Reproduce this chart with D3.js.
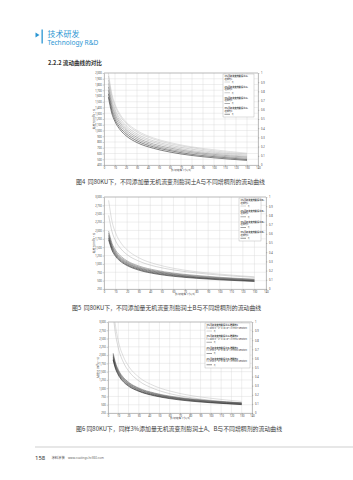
<!DOCTYPE html>
<html><head><meta charset="utf-8">
<script src="https://cdn.jsdelivr.net/npm/d3@7"></script>
<style>body{margin:0;background:#fff}svg{display:block}</style>
</head><body><svg id="page" width="353" height="480"></svg>
<script>
// ---------- data ----------
const xTickLabels = [0,10,20,30,40,50,60,70,80,90,100,110,120,130,140];
const rightTickLabels = [0,0.1,0.2,0.3,0.4,0.5,0.6,0.7,0.8,0.9,1];

// Fig 4
const fig4Shear = [4,7,10,15,20,30,45,60,80,100,130];
const fig4Visc = [
  [2000,1650,1460,1270,1150,1000,870,790,715,665,605],
  [1950,1610,1425,1240,1125,975,850,770,700,645,590],
  [1880,1550,1370,1195,1085,940,820,745,675,625,570],
  [1820,1500,1330,1155,1050,910,795,720,650,605,550],
  [1760,1450,1285,1120,1015,880,765,695,630,585,535],
  [1700,1400,1240,1080,980,850,740,670,610,565,515],
  [1640,1355,1195,1040,945,820,715,650,585,545,495],
  [1580,1305,1155,1005,910,790,690,625,565,525,480]
];
const fig4YTicks = [400,500,600,700,800,900,1000,1100,1200,1300,1400,1500,1600,1700,1800,1900,2000];
const fig4Legend = ["1%无机流变剂膨润土A+","2%无机流变剂膨润土A+","3%无机流变剂膨润土A+","4%无机流变剂膨润土A+"];
const fig4Legend2 = ["增稠剂1","增稠剂2","增稠剂3","增稠剂4"];

// Fig 5
const fig5Shear = [4,7,10,15,20,30,45,60,80,100,130];
const fig5Visc = [
  [2900,2260,1930,1610,1420,1185,990,870,765,695,615],
  [2450,1955,1690,1435,1275,1085,920,820,730,665,598],
  [1980,1610,1410,1215,1090,940,810,725,655,600,545],
  [1920,1560,1365,1175,1060,910,785,705,635,585,530],
  [1870,1520,1330,1145,1030,885,765,685,615,570,515],
  [1820,1480,1295,1115,1005,865,745,670,600,555,500],
  [1770,1440,1260,1085,975,840,720,650,585,540,490],
  [1720,1400,1225,1055,950,815,700,630,570,525,475]
];
const fig5YTicks = [250,500,750,1000,1250,1500,1750,2000,2250,2500,2750,3000];
const fig5Legend = ["1%无机流变剂膨润土B+","2%无机流变剂膨润土B+","3%无机流变剂膨润土B+","4%无机流变剂膨润土B+"];
const fig5Legend2 = ["增稠剂1","增稠剂2","增稠剂3","增稠剂4"];

// Fig 6
const fig6Shear = [5,7,10,15,20,30,45,60,80,100,130];
const fig6Visc = [
  [3540,2950,2430,1950,1665,1335,1070,915,780,695,600],
  [3245,2700,2220,1780,1520,1220,980,835,715,635,550],
  [2060,1800,1560,1325,1180,1005,855,760,680,620,560],
  [2020,1765,1530,1300,1160,985,840,745,665,610,550],
  [1980,1730,1500,1275,1135,965,820,730,655,600,540],
  [1940,1695,1470,1250,1115,945,805,720,640,585,528],
  [1890,1650,1435,1215,1085,920,785,700,625,570,515],
  [1850,1615,1400,1190,1060,905,770,685,610,560,503]
];
const fig6YTicks = [250,500,750,1000,1250,1500,1750,2000,2250,2500,2750,3000];
const fig6Legend = ["3%无机流变剂膨润土A+增稠剂1","3%无机流变剂膨润土A+增稠剂2","3%无机流变剂膨润土B+增稠剂1","3%无机流变剂膨润土B+增稠剂2"];
const fig6Legend2 = ["f = 4490.3·x^-0.43 (R² = 0.9987 Newton)","f = 4405.9·x^-0.42 (R² = 0.9991 Newton)","f = 3793.2·x^-0.40 (R² = 0.9985 Newton)","f = 3710.8·x^-0.40 (R² = 0.9989 Newton)"];

// ---------- drawing ----------
const svg = d3.select('#page');
const FONT = "'Noto Sans CJK SC','Noto Sans',sans-serif";
const blue = '#2b96d3';

// header
svg.append('path').attr('d','M35.5,32.5 L39.5,35 L35.5,37.5 Z').attr('fill',blue);
svg.append('rect').attr('x',41.5).attr('y',29.5).attr('width',1.3).attr('height',14).attr('fill',blue);
svg.append('text').attr('x',47.5).attr('y',37).attr('font-size',8).attr('fill',blue).attr('font-family',FONT).text('技术研发');
svg.append('text').attr('x',47.5).attr('y',44.6).attr('font-size',6.6).attr('fill',blue).attr('font-family',"'Noto Sans',sans-serif").text('Technology R&D');
svg.append('text').attr('x',48).attr('y',65.2).attr('font-size',5.6).attr('fill','#333').attr('font-weight','bold').attr('font-family',FONT).text('2.2.2 流动曲线的对比');

let clipId = 0;
function drawChart(o) {
  const g = svg.append('g');
  const x = d3.scaleLinear().domain([0,140]).range([o.left,o.right]);
  const y = d3.scaleLinear().domain([o.yTicks[0], o.yTicks[o.yTicks.length-1]]).range([o.bottom,o.top]);
  const yr = d3.scaleLinear().domain([0,1]).range([o.bottom,o.top]);
  // grid
  g.append('g').selectAll('line').data(xTickLabels).join('line')
    .attr('x1',d=>x(d)).attr('x2',d=>x(d)).attr('y1',o.top).attr('y2',o.bottom)
    .attr('stroke','#d6d6d6').attr('stroke-width',0.4);
  g.append('g').selectAll('line').data(o.yTicks).join('line')
    .attr('y1',d=>y(d)).attr('y2',d=>y(d)).attr('x1',o.left).attr('x2',o.right)
    .attr('stroke','#d6d6d6').attr('stroke-width',0.4);
  // axes
  const styleAxis = sel => {
    sel.selectAll('text').attr('font-size',2.6).attr('fill','#444').attr('font-family',"'Noto Sans',sans-serif");
    sel.selectAll('line').attr('stroke','#777').attr('stroke-width',0.35);
    sel.select('.domain').attr('stroke','#888').attr('stroke-width',0.5);
  };
  g.append('g').attr('transform',`translate(${o.left},0)`)
    .call(d3.axisLeft(y).tickValues(o.yTicks).tickSize(1.4).tickPadding(0.8).tickSizeOuter(0)).call(styleAxis);
  g.append('g').attr('transform',`translate(0,${o.bottom})`)
    .call(d3.axisBottom(x).tickValues(xTickLabels).tickSize(1.4).tickPadding(0.6).tickSizeOuter(0)).call(styleAxis);
  g.append('g').attr('transform',`translate(${o.right},0)`)
    .call(d3.axisRight(yr).tickValues(rightTickLabels).tickFormat(d3.format('')).tickSize(1.4).tickPadding(1.6).tickSizeOuter(0)).call(styleAxis);
  g.append('line').attr('x1',o.left).attr('x2',o.right).attr('y1',o.top).attr('y2',o.top).attr('stroke','#888').attr('stroke-width',0.5);
  // axis titles
  g.append('text').attr('transform',`translate(${o.left-9},${(o.top+o.bottom)/2}) rotate(-90)`)
    .attr('text-anchor','middle').attr('font-size',2.8).attr('fill','#444').attr('font-family',FONT).text('粘度 η [mPa·s]');
  g.append('text').attr('x',(o.left+o.right)/2).attr('y',o.bottom+6.3)
    .attr('text-anchor','middle').attr('font-size',2.8).attr('fill','#444').attr('font-family',FONT).text('剪切速率 γ̇ [1/s]');
  // curves
  const cid = 'clip'+(clipId++);
  g.append('clipPath').attr('id',cid).append('rect').attr('x',o.left).attr('y',o.top).attr('width',o.right-o.left).attr('height',o.bottom-o.top);
  const line = d3.line().x((d,i)=>x(o.shear[i])).y(d=>y(d)).curve(d3.curveMonotoneX);
  g.append('g').attr('clip-path',`url(#${cid})`).selectAll('path').data(o.visc).join('path')
    .attr('d',line).attr('fill','none').attr('stroke',(d,i)=>o.colors[i]).attr('stroke-width',(d,i)=>o.widths[i]);
  // legend
  const L = o.legend;
  g.append('rect').attr('x',L.x).attr('y',L.y).attr('width',L.w).attr('height',L.h)
    .attr('fill','#fff').attr('stroke','#aaa').attr('stroke-width',0.4);
  const eh = L.h/4;
  o.legendNames.forEach((name,i)=>{
    const y0 = L.y + i*eh;
    g.append('text').attr('x',L.x+1.5).attr('y',y0+3).attr('font-size',2.2).attr('font-weight','bold').attr('fill','#333').attr('font-family',FONT).text(name);
    g.append('text').attr('x',L.x+1.5).attr('y',y0+5.6).attr('font-size',2.2).attr('font-weight','normal').attr('fill','#333').attr('font-family',FONT).text(o.legendNames2[i]);
    g.append('line').attr('x1',L.x+1.5).attr('x2',L.x+7).attr('y1',y0+8).attr('y2',y0+8)
      .attr('stroke',o.colors[i*2+1]).attr('stroke-width',0.5);
    g.append('text').attr('x',L.x+9).attr('y',y0+8.8).attr('font-size',2.2).attr('fill','#444').attr('font-family',FONT).text('η');
  });
  // caption
  svg.append('text').attr('x',o.capX).attr('y',o.capY).attr('font-size',5.9).attr('fill','#3a3a3a').attr('font-family',FONT)
    .attr('xml:space','preserve').text(o.caption);
}

drawChart({
  left:104,right:258,top:73,bottom:165,
  yTicks:fig4YTicks, shear:fig4Shear, visc:fig4Visc,
  colors:['#bcbcbc','#b0b0b0','#a2a2a2','#969696','#6a6a6a','#5a5a5a','#3a3a3a','#2a2a2a'],
  widths:[0.45,0.45,0.45,0.45,0.5,0.5,0.6,0.6],
  legend:{x:223,y:74,w:31,h:43}, legendNames:fig4Legend, legendNames2:fig4Legend2,
  capX:76, capY:184.3,
  caption:'图4  同80KU下，不同添加量无机流变剂膨润土A与不同增稠剂的流动曲线'
});
drawChart({
  left:104,right:266,top:197,bottom:289,
  yTicks:fig5YTicks, shear:fig5Shear, visc:fig5Visc,
  colors:['#b8b8b8','#a8a8a8','#6a6a6a','#5a5a5a','#4a4a4a','#3c3c3c','#303030','#242424'],
  widths:[0.45,0.45,0.5,0.5,0.5,0.5,0.6,0.6],
  legend:{x:239,y:198,w:22,h:43}, legendNames:fig5Legend, legendNames2:fig5Legend2,
  capX:72, capY:309.5,
  caption:'图5  同80KU下，不同添加量无机流变剂膨润土B与不同增稠剂的流动曲线'
});
drawChart({
  left:108,right:252,top:322,bottom:413,
  yTicks:fig6YTicks, shear:fig6Shear, visc:fig6Visc,
  colors:['#b8b8b8','#aaaaaa','#606060','#505050','#444','#383838','#2c2c2c','#202020'],
  widths:[0.45,0.45,0.5,0.5,0.5,0.5,0.6,0.6],
  legend:{x:205,y:323,w:45,h:45}, legendNames:fig6Legend, legendNames2:fig6Legend2,
  capX:76, capY:430.5,
  caption:'图6 同80KU下，同样3%添加量无机流变剂膨润土A、B与不同增稠剂的流动曲线'
});

// footer
svg.append('line').attr('x1',35).attr('x2',353).attr('y1',447).attr('y2',447).attr('stroke','#b0b0b0').attr('stroke-width',0.6);
svg.append('text').attr('x',35).attr('y',459.5).attr('font-size',6).attr('fill','#333').attr('font-family',"'Noto Sans',sans-serif").text('158');
svg.append('text').attr('x',51.5).attr('y',459).attr('font-size',3.3).attr('fill','#444').attr('font-family',FONT).text('涂料涂装');
svg.append('text').attr('x',68).attr('y',459).attr('font-size',3.0).attr('fill','#666').attr('font-family',"'Noto Sans',sans-serif").text('www.coatings.hc360.com');
</script></body></html>
